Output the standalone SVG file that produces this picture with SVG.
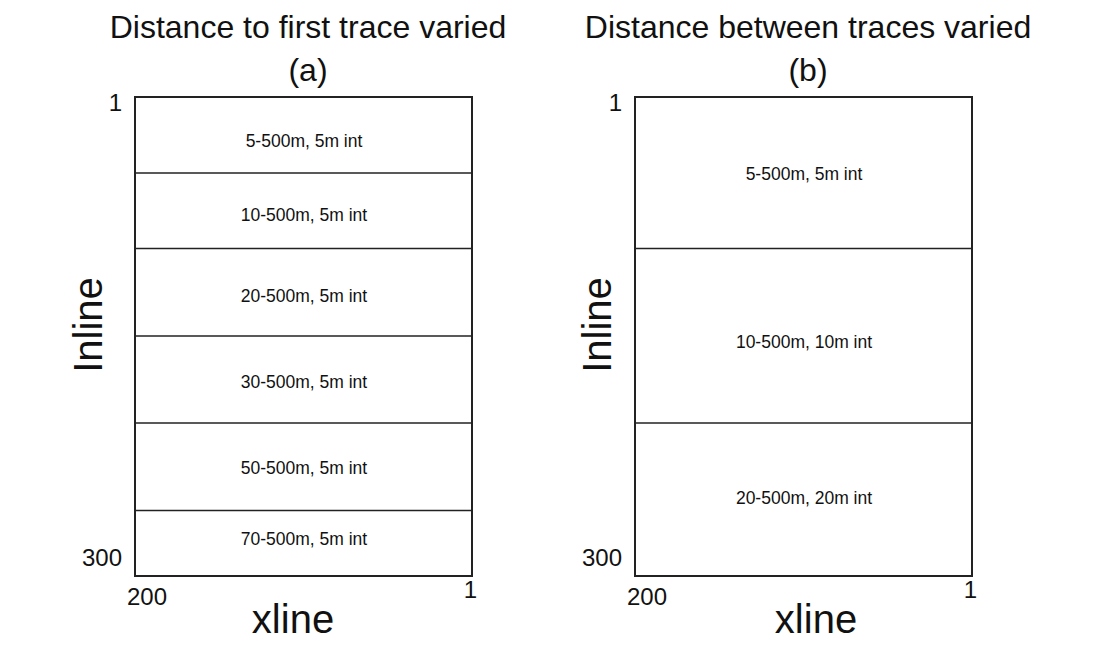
<svg xmlns="http://www.w3.org/2000/svg" width="1100" height="650" viewBox="0 0 1100 650">
<style>
text{font-family:"Liberation Sans",Arial,sans-serif;fill:#111}
.t{font-size:32px;text-anchor:middle}
.ax{font-size:24px}
.big{font-size:40px;text-anchor:middle}
.lb{font-size:17.5px;text-anchor:middle}
.box{fill:#fff;stroke:#222;stroke-width:2}
.div{stroke:#222;stroke-width:1.5}
</style>
<rect width="1100" height="650" fill="#fff"/>
<g id="panel-a">
<text class="t" x="308" y="38">Distance to first trace varied</text>
<text class="t" x="308" y="81">(a)</text>
<rect class="box" x="135" y="97" width="337" height="479"/>
<g class="div">
<line x1="135" y1="173" x2="472" y2="173"/>
<line x1="135" y1="248.5" x2="472" y2="248.5"/>
<line x1="135" y1="336" x2="472" y2="336"/>
<line x1="135" y1="423" x2="472" y2="423"/>
<line x1="135" y1="510.5" x2="472" y2="510.5"/>
</g>
<text class="lb" x="304" y="147">5-500m, 5m int</text>
<text class="lb" x="304" y="221">10-500m, 5m int</text>
<text class="lb" x="304" y="302">20-500m, 5m int</text>
<text class="lb" x="304" y="388">30-500m, 5m int</text>
<text class="lb" x="304" y="474">50-500m, 5m int</text>
<text class="lb" x="304" y="545">70-500m, 5m int</text>
<text class="ax" x="122" y="111" text-anchor="end">1</text>
<text class="ax" x="122" y="566" text-anchor="end">300</text>
<text class="ax" x="127" y="605">200</text>
<text class="ax" x="477" y="598" text-anchor="end">1</text>
<text class="big" x="293" y="633">xline</text>
<text class="big" transform="translate(102,325) rotate(-90)">Inline</text>
</g>
<g id="panel-b">
<text class="t" x="808" y="38">Distance between traces varied</text>
<text class="t" x="808" y="81">(b)</text>
<rect class="box" x="635" y="97" width="337" height="479"/>
<g class="div">
<line x1="635" y1="248.5" x2="972" y2="248.5"/>
<line x1="635" y1="423" x2="972" y2="423"/>
</g>
<text class="lb" x="804" y="180">5-500m, 5m int</text>
<text class="lb" x="804" y="348">10-500m, 10m int</text>
<text class="lb" x="804" y="504">20-500m, 20m int</text>
<text class="ax" x="622" y="111" text-anchor="end">1</text>
<text class="ax" x="622" y="566" text-anchor="end">300</text>
<text class="ax" x="627" y="605">200</text>
<text class="ax" x="977" y="598" text-anchor="end">1</text>
<text class="big" x="816" y="633">xline</text>
<text class="big" transform="translate(611,325) rotate(-90)">Inline</text>
</g>
</svg>
